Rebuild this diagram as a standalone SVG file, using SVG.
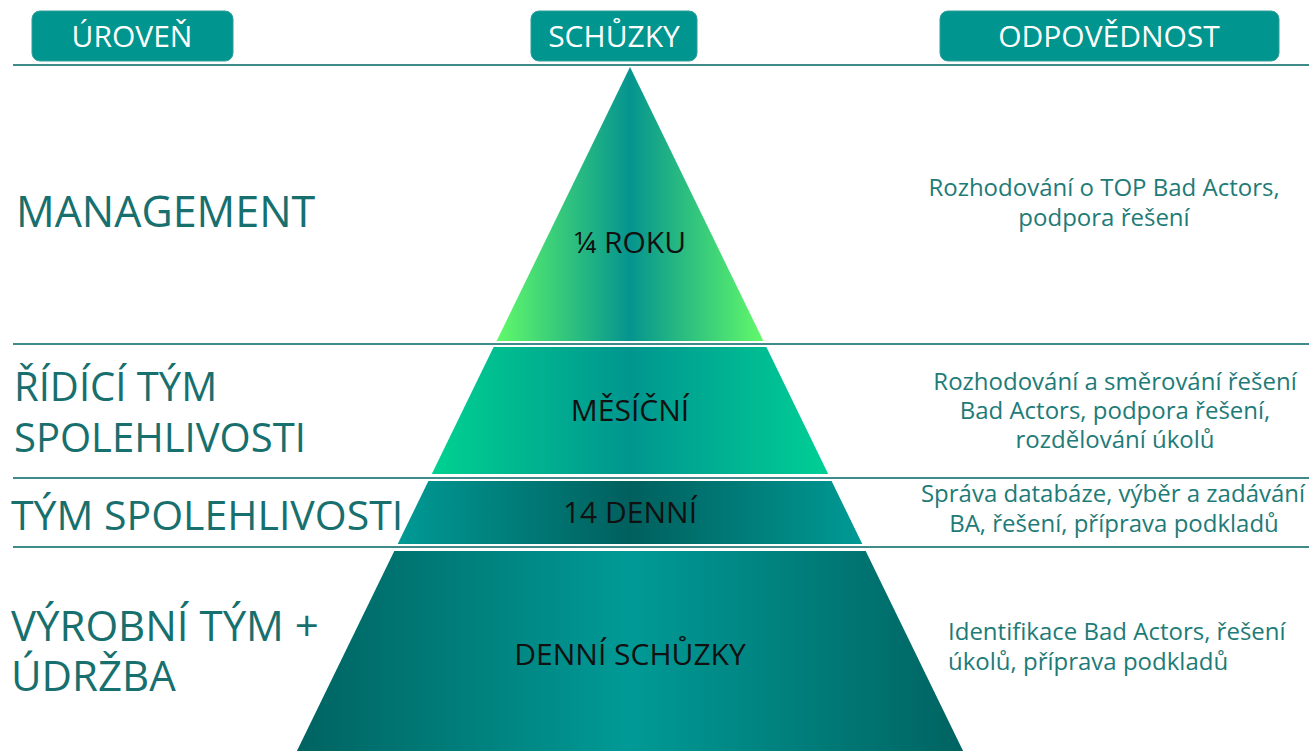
<svg xmlns="http://www.w3.org/2000/svg" width="1309" height="751" viewBox="0 0 1309 751">
<style>
.hdr{fill:#00958f;stroke:#2f9f99;stroke-width:1}
.htxt{font-family:"Open Sans","Liberation Sans",sans-serif;font-size:30px;fill:#ffffff;text-anchor:middle}
.sep{stroke:#3f8b89;stroke-width:2}
.lvl{font-family:"Open Sans","Liberation Sans",sans-serif;font-size:41px;fill:#17706e}
.mt{font-family:"Open Sans","Liberation Sans",sans-serif;font-size:30px;fill:#111111;text-anchor:middle}
.rt{font-family:"Open Sans","Liberation Sans",sans-serif;font-size:24px;fill:#1e7b78}
.c{text-anchor:middle}
</style>
<defs>
<linearGradient id="g1" x1="0" y1="0" x2="1" y2="0">
<stop offset="0" stop-color="#62f96a"/><stop offset="0.5" stop-color="#05948f"/><stop offset="1" stop-color="#62f96a"/>
</linearGradient>
<linearGradient id="g2" x1="0" y1="0" x2="1" y2="0">
<stop offset="0" stop-color="#00d191"/><stop offset="0.5" stop-color="#00968f"/><stop offset="1" stop-color="#00cf95"/>
</linearGradient>
<linearGradient id="g3" x1="0" y1="0" x2="1" y2="0">
<stop offset="0" stop-color="#009a95"/><stop offset="0.5" stop-color="#00605e"/><stop offset="1" stop-color="#009a95"/>
</linearGradient>
<linearGradient id="g4" x1="0" y1="0" x2="1" y2="0">
<stop offset="0" stop-color="#006361"/><stop offset="0.5" stop-color="#009a96"/><stop offset="1" stop-color="#006361"/>
</linearGradient>
</defs>

<g id="header-uroven"><rect class="hdr" x="32" y="11" width="201" height="50" rx="8"/><text class="htxt" x="132" y="47">ÚROVEŇ</text></g>
<g id="header-schuzky"><rect class="hdr" x="531" y="11" width="166" height="50" rx="8"/><text class="htxt" x="614" y="47">SCHŮZKY</text></g>
<g id="header-odpovednost"><rect class="hdr" x="940" y="11" width="339" height="50" rx="8"/><text class="htxt" x="1109" y="47">ODPOVĚDNOST</text></g>

<g id="separators">
<line class="sep" x1="13" y1="65" x2="1309" y2="65"/>
<line class="sep" x1="13" y1="344" x2="1309" y2="344"/>
<line class="sep" x1="13" y1="478" x2="1309" y2="478"/>
<line class="sep" x1="13" y1="547" x2="1309" y2="547"/>
</g>

<g id="level-management">
<polygon points="630,67 763.4,341 496.6,341" fill="url(#g1)"/>
<text class="mt" x="630" y="253">¼ ROKU</text>
<text class="lvl" x="16" y="227" style="font-size:43px">MANAGEMENT</text>
<text class="rt c" x="1104" y="196">Rozhodování o TOP Bad Actors,</text>
<text class="rt c" x="1104" y="226">podpora řešení</text>
</g>

<g id="level-ridici-tym">
<polygon points="493.6,347 766.4,347 828.2,474 431.8,474" fill="url(#g2)"/>
<text class="mt" x="630" y="421">MĚSÍČNÍ</text>
<text class="lvl" x="14" y="401" style="font-size:40px">ŘÍDÍCÍ TÝM</text>
<text class="lvl" x="14" y="452" style="font-size:40px">SPOLEHLIVOSTI</text>
<text class="rt c" x="1115" y="390">Rozhodování a směrování řešení</text>
<text class="rt c" x="1115" y="419">Bad Actors, podpora řešení,</text>
<text class="rt c" x="1115" y="448">rozdělování úkolů</text>
</g>

<g id="level-tym-spolehlivosti">
<polygon points="428.4,481 831.6,481 862.3,544 397.7,544" fill="url(#g3)"/>
<text class="mt" x="630" y="523">14 DENNÍ</text>
<text class="lvl" x="11" y="530">TÝM SPOLEHLIVOSTI</text>
<text class="rt c" x="1113" y="502">Správa databáze, výběr a zadávání</text>
<text class="rt c" x="1114" y="532">BA, řešení, příprava podkladů</text>
</g>

<g id="level-vyrobni-tym">
<polygon points="394.3,551 865.7,551 963.1,751 296.9,751" fill="url(#g4)"/>
<text class="mt" x="630" y="665">DENNÍ SCHŮZKY</text>
<text class="lvl" x="11" y="641" style="font-size:42px">VÝROBNÍ TÝM +</text>
<text class="lvl" x="11" y="691" style="font-size:42px">ÚDRŽBA</text>
<text class="rt" x="948" y="640">Identifikace Bad Actors, řešení</text>
<text class="rt" x="948" y="670">úkolů, příprava podkladů</text>
</g>
</svg>
